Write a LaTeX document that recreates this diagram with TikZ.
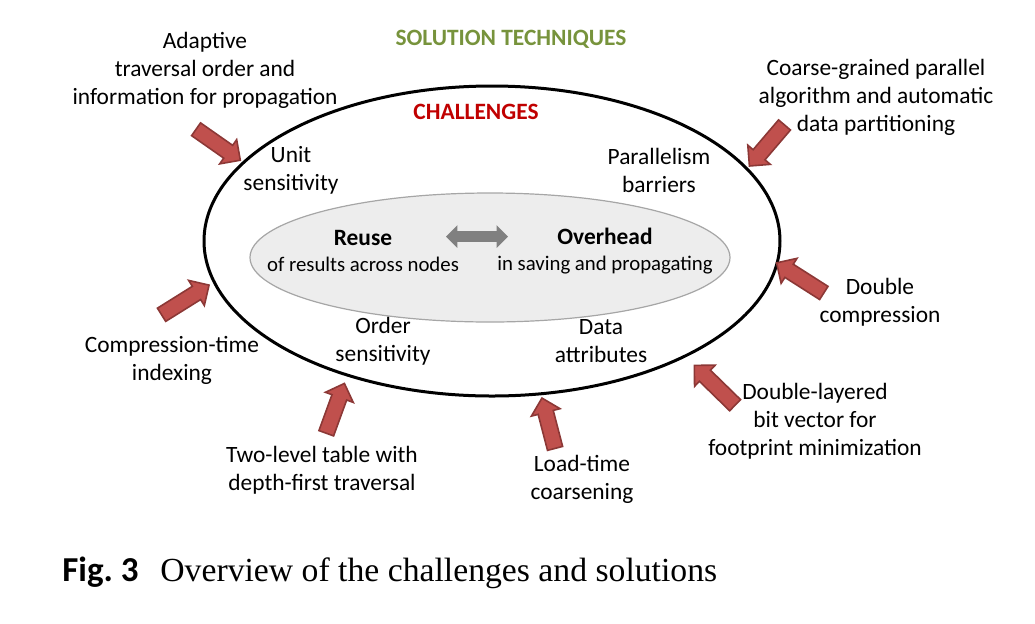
\documentclass[tikz,border=0pt]{standalone}
\usepackage{fontspec}
\setmainfont{Carlito}
\newfontfamily\capfont{Liberation Serif}
\usepackage{xcolor}
\usepackage{tikz}
\definecolor{solgreen}{HTML}{77933C}
\definecolor{chalred}{HTML}{C00000}
\definecolor{arrred}{HTML}{C0504D}
\definecolor{arrdark}{HTML}{8C3836}
\definecolor{innergray}{HTML}{EDEDED}
\definecolor{linegray}{HTML}{A6A6A6}
\definecolor{dblgray}{HTML}{808080}
\usetikzlibrary{shapes.arrows, shapes.geometric, positioning}

\begin{document}
\begin{tikzpicture}[x=0.5pt, y=-0.5pt, font=\fontsize{11.7}{14}\selectfont,
  lbl/.style={align=center, inner sep=0pt},
  redarrow/.style={single arrow, fill=arrred, draw=arrdark, line width=0.8pt,
    inner sep=3.5pt, single arrow head extend=3.5pt,
    single arrow head indent=0pt, minimum height=#1}]
\useasboundingbox (0,0) rectangle (1035,623);

% Challenges
\node[ellipse, draw, line width=1.5pt, minimum width=288pt, minimum height=155pt] (chal) at (492,241) {};
\node[ellipse, draw=linegray, fill=innergray, line width=0.6pt, minimum width=240pt, minimum height=64.5pt] (core) at (490,257.5) {};
\node[lbl, text=solgreen, font=\fontsize{11.7}{14}\selectfont\bfseries] (soltitle) at (511,39) {SOLUTION TECHNIQUES};
\node[lbl, text=chalred, font=\fontsize{11.7}{14}\selectfont\bfseries] (chaltitle) at (476,112) {CHALLENGES};
\node[lbl] (unit) at (291,170) {Unit\\sensitivity};
\node[lbl] (barrier) at (659,170) {Parallelism\\barriers};
\node[lbl] (order) at (383,341) {Order\\sensitivity};
\node[lbl] (data) at (601,341) {Data\\attributes};

% Trade-off
\node[lbl, font=\fontsize{10.4}{13}\selectfont] (reuse) at (363,251) {{\fontsize{11.7}{13}\selectfont\bfseries Reuse}\\of results across nodes};
\node[lbl, font=\fontsize{10.4}{13}\selectfont] (overhead) at (605,251) {{\fontsize{11.7}{13}\selectfont\bfseries Overhead}\\in saving and propagating};
\node[double arrow, fill=dblgray, inner sep=2.5pt, double arrow head extend=3pt,
  double arrow head indent=0pt, minimum height=31pt] (trade) at (477,236.5) {};

% Solution techniques
\node[lbl] (adapt) at (205,70) {Adaptive\\traversal order and\\information for propagation};
\node[lbl] (coarse) at (876,97) {Coarse-grained parallel\\algorithm and automatic\\data partitioning};
\node[lbl] (dcomp) at (880,302) {Double\\compression};
\node[lbl] (dlayer) at (815,421) {Double-layered\\bit vector for\\footprint minimization};
\node[lbl] (load) at (582,479) {Load-time\\coarsening};
\node[lbl] (twolevel) at (322,470) {Two-level table with\\depth-first traversal};
\node[lbl] (cidx) at (172,360) {Compression-time\\indexing};

% Red arrows
\foreach \n/\px/\py/\ang/\len in {1/215/142.5/-35/27pt, 2/769.5/142.5/-130.5/27pt,
    3/803.5/280/147.5/28pt, 4/717.5/388/135.7/28.5pt, 5/549.5/427/104.6/26pt,
    6/334/412/70/26.5pt, 7/182/302/32/28pt} {
  \node[redarrow=\len, rotate=\ang] (arr\n) at (\px,\py) {};
}

% Caption
\node[anchor=base west, inner sep=0pt, font=\fontsize{17.5}{20}\selectfont\bfseries] (fig) at (62,581) {Fig.~3};
\node[anchor=base west, inner sep=0pt, font=\capfont\fontsize{16.85}{20}\selectfont] (cap) at (160,581) {Overview of the challenges and solutions};
\end{tikzpicture}
\end{document}
